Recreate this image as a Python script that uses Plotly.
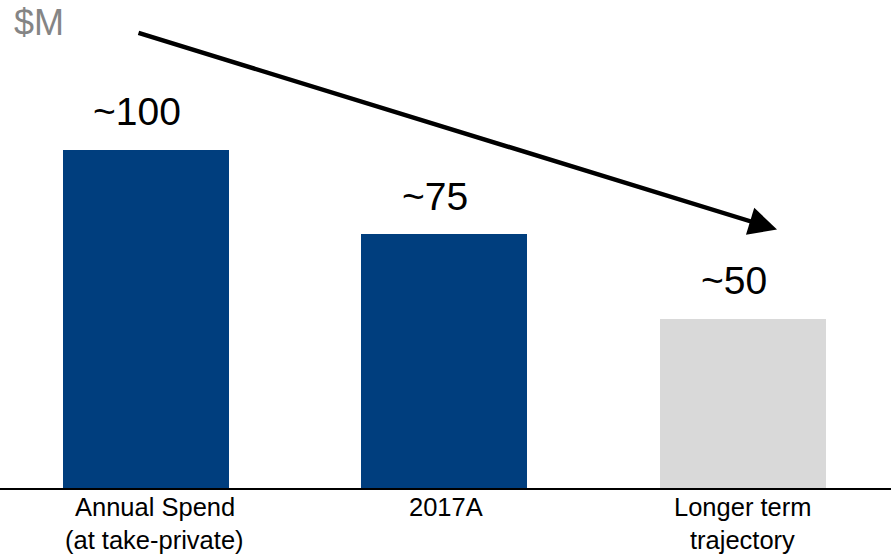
import plotly.graph_objects as go

# Spend by period ($M)
categories = ["Annual Spend<br>(at take-private)", "2017A", "Longer term<br>trajectory"]
values = [100, 75, 50]
value_labels = ["~100", "~75", "~50"]
bar_colors = ["#003E7E", "#003E7E", "#D9D9D9"]
unit_label = "$M"

x_pos = list(range(len(categories)))
label_xshift = [9, 2, 0]

fig = go.Figure()
fig.add_trace(go.Bar(
    x=x_pos,
    y=values,
    width=0.556,
    marker=dict(color=bar_colors, line=dict(width=0)),
    hoverinfo="skip",
))

annotations = []

# value labels above each bar
for xi, v, lab in zip(x_pos, values, value_labels):
    annotations.append(dict(
        x=xi, y=v, xref="x", yref="y", text=lab, showarrow=False,
        xanchor="center", yanchor="middle", xshift=-9, yshift=38,
        font=dict(family="Arial, Liberation Sans, sans-serif", size=39, color="#000000"),
    ))

# category labels below the axis, one annotation per line
for xi, cat, xs in zip(x_pos, categories, label_xshift):
    for li, line in enumerate(cat.split("<br>")):
        annotations.append(dict(
            x=xi, y=0, xref="x", yref="paper", text=line, showarrow=False,
            xanchor="center", yanchor="middle", xshift=xs,
            yshift=-19 - 33 * li,
            font=dict(family="Arial, Liberation Sans, sans-serif", size=25.5, color="#000000"),
        ))

# unit label
annotations.append(dict(
    x=0, y=1, xref="paper", yref="paper", text=unit_label, showarrow=False,
    xanchor="left", yanchor="middle", xshift=12, yshift=-22,
    font=dict(family="Arial, Liberation Sans, sans-serif", size=36, color="#858585"),
))

# downward trend arrow
plot_w = 891.0
plot_h = 488.0
annotations.append(dict(
    x=777 / plot_w, y=(487.5 - 229) / plot_h, xref="paper", yref="paper",
    ax=137 - 777, ay=32 - 229, axref="pixel", ayref="pixel",
    text="", showarrow=True, arrowhead=2, arrowsize=1.25, arrowwidth=4.5,
    arrowcolor="#000000",
))

fig.update_layout(
    width=896, height=554,
    margin=dict(l=0, r=5, t=0, b=66),
    paper_bgcolor="white", plot_bgcolor="white",
    showlegend=False,
    bargap=0,
    annotations=annotations,
    xaxis=dict(
        range=[-0.489, 2.496], showgrid=False, zeroline=False,
        showline=True, linecolor="#000000", linewidth=2,
        showticklabels=False, ticks="",
    ),
    yaxis=dict(
        range=[0, 144.2], showgrid=False, zeroline=False,
        showline=False, showticklabels=False, ticks="",
    ),
)

fig.write_html("out.html")
